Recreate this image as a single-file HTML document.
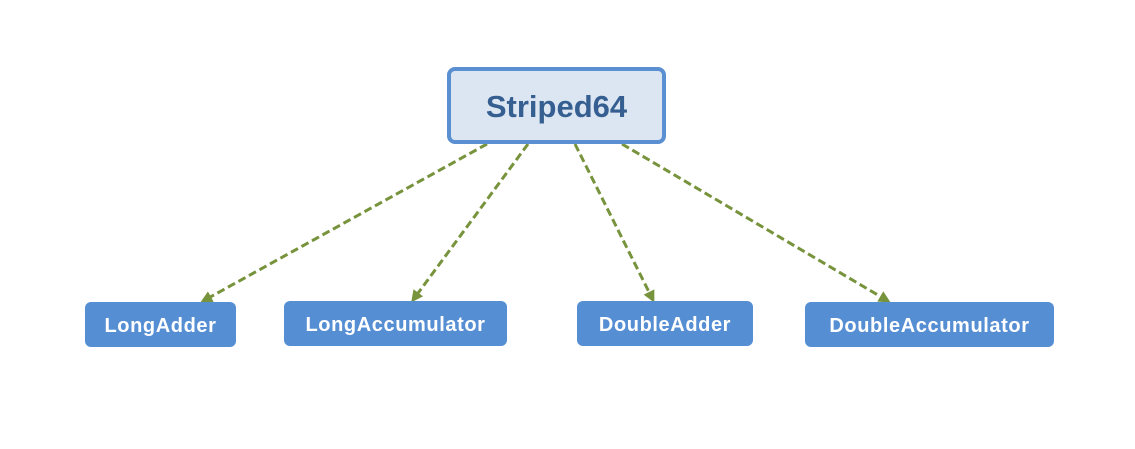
<!DOCTYPE html>
<html><head><style>
body{margin:0;width:1135px;height:449px;background:#fff;position:relative;overflow:hidden;font-family:"Liberation Sans","DejaVu Sans",sans-serif;}
.top{position:absolute;left:447px;top:67px;width:219px;height:77px;border:4px solid #5a8fd2;border-radius:8px;background:#dce6f2;color:#365f91;font-weight:bold;font-size:31px;display:flex;align-items:center;justify-content:center;padding-top:2px;box-sizing:border-box;}
.b{position:absolute;top:302px;height:45px;background:#568ed4;border-radius:6px;color:#fff;font-weight:bold;font-size:20px;letter-spacing:0.6px;display:flex;align-items:center;justify-content:center;padding-top:3px;box-sizing:border-box;}
svg{position:absolute;left:0;top:0;}
</style></head><body>
<svg width="1135" height="449">
<defs><marker id="a" markerWidth="12" markerHeight="12" refX="9" refY="6" orient="auto" markerUnits="userSpaceOnUse"><path d="M0,0 L12,6 L0,12 Z" fill="#77933c"/></marker></defs>
<g stroke="#77933c" stroke-width="3" stroke-dasharray="8,4" fill="none">
<line x1="487" y1="144" x2="203" y2="301" marker-end="url(#a)"/>
<line x1="528" y1="144" x2="413" y2="300" marker-end="url(#a)"/>
<line x1="575" y1="144" x2="653" y2="300" marker-end="url(#a)"/>
<line x1="622" y1="144" x2="888" y2="301" marker-end="url(#a)"/>
</g></svg>
<div class="top">Striped64</div>
<div class="b" style="left:85px;width:151px">LongAdder</div>
<div class="b" style="left:284px;width:223px;top:301px">LongAccumulator</div>
<div class="b" style="left:577px;width:176px;top:301px">DoubleAdder</div>
<div class="b" style="left:805px;width:249px">DoubleAccumulator</div>
</body></html>
